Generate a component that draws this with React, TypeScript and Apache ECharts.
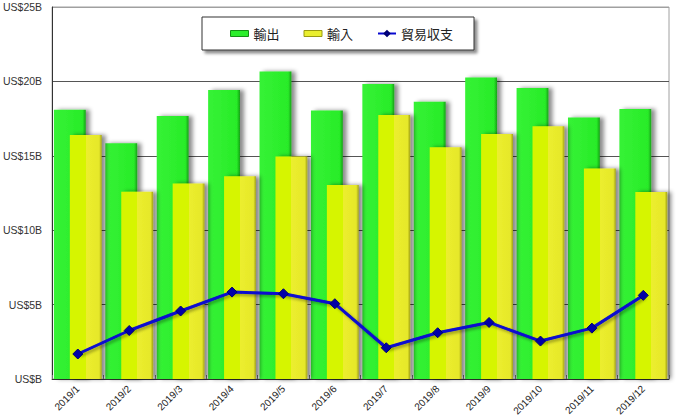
import React, { useEffect, useRef } from "react";
import * as echarts from "echarts";

const categories = ["2019/1", "2019/2", "2019/3", "2019/4", "2019/5", "2019/6", "2019/7", "2019/8", "2019/9", "2019/10", "2019/11", "2019/12"];
const exportsB = [18.09, 15.85, 17.68, 19.43, 20.66, 18.04, 19.83, 18.64, 20.26, 19.56, 17.57, 18.15];
const importsB = [16.39, 12.58, 13.14, 13.63, 14.95, 13.03, 17.75, 15.58, 16.47, 16.99, 14.14, 12.56];
const balanceB = [1.68, 3.26, 4.57, 5.84, 5.73, 5.06, 2.1, 3.11, 3.8, 2.55, 3.42, 5.62];
const seriesNames = ["輸出", "輸入", "貿易収支"];
const yTicks = { min: 0, max: 25, interval: 5 };

export default function App() {
  const ref = useRef<HTMLDivElement>(null);
  useEffect(() => {
    if (!ref.current) return;
    const chart = echarts.init(ref.current, undefined, { renderer: "svg" });
    const green = new echarts.graphic.LinearGradient(0, 0, 1, 0, [
      { offset: 0, color: "#36f236" },
      { offset: 0.9, color: "#28ec28" },
      { offset: 1, color: "#17a017" },
    ]);
    const yellow = new echarts.graphic.LinearGradient(0, 0, 1, 0, [
      { offset: 0, color: "#d6f500" },
      { offset: 0.5, color: "#d6f500" },
      { offset: 0.5, color: "#ecee2e" },
      { offset: 0.92, color: "#e6e82a" },
      { offset: 1, color: "#a0a018" },
    ]);
    chart.setOption({
      animation: false,
      backgroundColor: "#ffffff",
      grid: {
        left: 49,
        right: 9,
        top: 7,
        bottom: 40,
        show: true,
        borderColor: "#a0a0a0",
        borderWidth: 1,
        backgroundColor: "#ffffff",
      },
      legend: {
        left: 202,
        top: 17,
        padding: [10, 21, 10, 28],
        itemGap: 24,
        itemWidth: 18,
        itemHeight: 6,
        backgroundColor: "#ffffff",
        borderColor: "#333333",
        borderWidth: 1,
        shadowBlur: 3,
        shadowOffsetX: 3,
        shadowOffsetY: 3,
        shadowColor: "rgba(0,0,0,0.45)",
        textStyle: { fontFamily: "Noto Sans CJK JP", fontSize: 13, color: "#222" },
        data: [
          { name: seriesNames[0], icon: "rect", itemStyle: { color: "#2bee2b", borderColor: "#139013", borderWidth: 1 } },
          { name: seriesNames[1], icon: "rect", itemStyle: { color: "#eaee2e", borderColor: "#9a9a10", borderWidth: 1 } },
          { name: seriesNames[2] },
        ],
      },
      xAxis: {
        type: "category",
        data: categories,
        axisLine: { lineStyle: { color: "#333333", width: 1 } },
        axisTick: { show: true, inside: true, length: 4, lineStyle: { color: "#777" } },
        axisLabel: {
          rotate: 45,
          margin: 8,
          fontSize: 10,
          fontFamily: "Liberation Sans",
          color: "#222",
          interval: 0,
        },
      },
      yAxis: {
        type: "value",
        min: yTicks.min,
        max: yTicks.max,
        interval: yTicks.interval,
        axisLine: { show: true, lineStyle: { color: "#333333", width: 1 } },
        axisTick: { show: false },
        axisLabel: {
          margin: 10,
          fontSize: 10.5,
          fontFamily: "Liberation Sans",
          color: "#333",
          formatter: (v: number) => `US$${v === 0 ? "" : v}B`,
        },
        splitLine: {
          show: true,
          lineStyle: { color: ["#555", "#555", "#555", "#555", "#555", "#a0a0a0"], width: 1 },
        },
      },
      series: [
        {
          name: seriesNames[0],
          type: "bar",
          data: exportsB,
          barGap: "-50%",
          barCategoryGap: "7%",
          itemStyle: {
            color: green,
            shadowBlur: 4,
            shadowOffsetX: 4,
            shadowOffsetY: 0,
            shadowColor: "rgba(0,0,0,0.45)",
          },
        },
        {
          name: seriesNames[1],
          type: "bar",
          data: importsB,
          itemStyle: {
            color: yellow,
            shadowBlur: 4,
            shadowOffsetX: 4,
            shadowOffsetY: 0,
            shadowColor: "rgba(0,0,0,0.45)",
          },
        },
        {
          name: seriesNames[2],
          type: "line",
          data: balanceB,
          symbol: "diamond",
          symbolSize: 10,
          lineStyle: {
            color: "#0808d0",
            width: 3,
            shadowBlur: 3,
            shadowOffsetX: 2,
            shadowOffsetY: 2,
            shadowColor: "rgba(0,0,0,0.35)",
          },
          itemStyle: { color: "#0000a8", borderColor: "#000070", borderWidth: 1 },
          z: 5,
        },
      ],
    });
    return () => chart.dispose();
  }, []);
  return <div ref={ref} style={{ position: "fixed", left: 0, top: 0, width: 678, height: 419 }} />;
}
